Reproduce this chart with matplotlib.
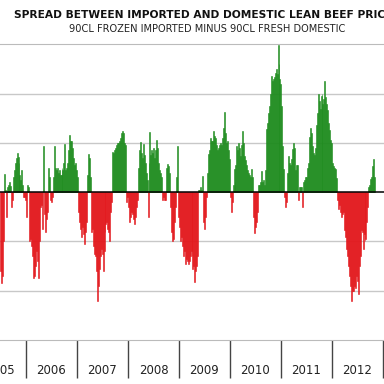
import matplotlib
matplotlib.use('Agg')
import matplotlib.pyplot as plt
import numpy as np
import pandas as pd

# weekly spread, 90CL frozen imported minus 90CL fresh domestic (chart units)
first_week = '2005-07-02'
spread = [
    -1.6, -1.85, -1.7, -1.0, 0.38, 0.05, -0.5, 0.1, 0.15, 0.2,
    0.12, -0.3, -0.15, 0.3, 0.45, 0.6, 0.7, 0.8, 0.72, 0.6,
    0.35, 0.25, 0.45, 0.15, -0.1, -0.1, -0.15, -0.5, 0.15, 0.1, -1.0,
    -0.95, -1.1, -1.3, -1.75, -1.7, -1.5, -1.2, -1.4, -1.75, -1.0,
    -0.3, -0.25, -0.75, 0.93, -0.45, -0.8, -0.55, -0.4, 0.5, 0.3,
    -0.15, -0.2, -0.1, 0.3, 0.93, 0.5, 0.45, 0.5, 0.4, 0.45,
    0.35, 0.35, 0.5, 0.45, 0.6, 0.97, 0.45, 0.5, 0.6, 0.85,
    1.17, 1.05, 1.05, 0.9, 0.7, 0.55, 0.6, 0.45, 0.3, -0.4, -0.6,
    -0.75, -0.9, -0.7, -0.85, -1.05, -0.8, -0.6, 0.35, 0.77, 0.7,
    0.3, -0.8, -0.75, -1.1, -1.25, -1.3, -1.6, -2.2, -1.9, -1.55,
    -1.3, -1.15, -1.25, -1.6, -1.2, -0.8, -0.65, -0.6, -0.75, -0.8,
    -1.0, -0.4, -0.2, 0.82, 0.8, 0.85, 0.9, 0.95, 1.0, 1.0, 1.05,
    1.1, 1.2, 1.25, 1.2, 1.0, 0.95, -0.2, -0.1, -0.3, -0.6,
    -0.5, -0.4, -0.45, -0.55, -0.65, -0.5, -0.3, -0.15, 0.5, 0.85,
    1.03, 0.8, 0.7, 0.97, 0.75, 0.6, 0.4, 0.25, -0.5, 0.6,
    1.22, 0.75, 0.85, 0.8, 0.9, 0.7, 0.85, 1.07, 0.9, 0.6,
    0.45, 0.4, 0.3, -0.15, -0.1, -0.15, -0.15, 0.5, 0.57, 0.53, 0.4,
    -0.3, -0.8, -1.0, -0.95, -0.6, -0.3, 0.3, 0.93, -0.5, -0.7,
    -1.0, -0.9, -1.1, -1.3, -1.2, -1.45, -1.35, -1.4, -1.45, -1.4,
    -1.3, -1.2, -1.3, -1.55, -1.5, -1.83, -1.6, -1.5, -1.3, 0.05,
    0.05, 0.1, 0.05, 0.33, -0.6, -0.75, -0.5, -0.1, 0.4, 0.77,
    0.85, 1.1, 1.05, 1.05, 1.24, 1.15, 1.1, 0.95, 0.85, 0.9, 0.95,
    1.0, 0.95, 1.1, 1.3, 1.62, 1.2, 1.0, 1.05, 0.85, 0.68,
    -0.1, -0.4, -0.2, 0.15, 0.47, 0.2, 0.55, 0.93, 0.85, 1.0,
    0.9, 0.73, 0.95, 1.24, 1.0, 0.73, 0.65, 0.55, 0.45, 0.4,
    0.35, 0.3, 0.47, 0.3, -0.5, -0.82, -0.7, -0.6, -0.4, 0.15, 0.15,
    0.2, 0.43, 0.2, 0.25, 0.15, 0.45, 1.28, 1.4, 1.6, 1.75,
    2.0, 2.36, 2.25, 2.3, 2.35, 2.43, 2.5, 2.4, 2.98, 2.6,
    2.3, 2.2, 1.75, 0.93, 0.47, -0.1, -0.3, -0.2, 0.4, 0.73,
    0.6, 0.55, 0.68, 0.87, 1.0, 0.9, 0.45, 0.55, 0.55, -0.15,
    0.1, 0.1, 0.1, -0.3, 0.2, 0.25, 0.3, 0.3, 0.5, 0.6, 1.13,
    1.3, 1.2, 0.93, 0.8, 0.75, 0.9, 1.37, 1.6, 2.0, 1.85,
    1.7, 1.95, 2.0, 1.8, 1.9, 2.25, 1.93, 1.8, 1.66, 1.4,
    1.27, 1.07, 1.0, 0.6, 0.53, 0.5, 0.47, 0.28, -0.15, -0.35,
    -0.25, -0.4, -0.5, -0.45, -0.4, -0.77, -0.9, -1.15, -1.3, -1.5,
    -1.7, -1.9, -2.2, -2.0, -2.0, -1.9, -1.95, -1.7, -1.8, -2.07, -1.5,
    -1.3, -0.77, -0.8, -1.15, -0.85, -1.0, -0.95, -0.6, -0.3, 0.1,
    0.15, 0.27, 0.3, 0.53, 0.67, 0.3,
]
years = [2005, 2006, 2007, 2008, 2009, 2010, 2011, 2012]
title = 'SPREAD BETWEEN IMPORTED AND DOMESTIC LEAN BEEF PRICES'
subtitle = '90CL FROZEN IMPORTED MINUS 90CL FRESH DOMESTIC'

GREEN = '#1f8c1f'
RED = '#e3171c'

vals = np.array(spread)
weeks = pd.date_range(first_week, periods=len(vals), freq='7D')
cols = np.where(vals >= 0, GREEN, RED)

fig = plt.figure(figsize=(3.84, 3.84), dpi=100)
ax = fig.add_axes([0, 0.1146, 1, 0.7708])
ax.bar(weeks, vals, width=7, color=cols, edgecolor=cols, linewidth=0.4, zorder=2)
ax.axhline(0, color='black', lw=1.1, zorder=3)

ax.set_xlim(pd.Timestamp('2005-06-29'), pd.Timestamp('2013-01-08'))
ax.set_ylim(-3, 3.01)
ax.set_yticks([-2, -1, 1, 2])
ax.yaxis.grid(True, color='#c8c8c8', lw=1)
ax.set_axisbelow(True)
ax.tick_params(axis='y', left=False, labelleft=False)

bounds = [pd.Timestamp(f'{y}-01-01') for y in years[1:] + [2013]]
mids = [pd.Timestamp(f'{y}-07-02') for y in years]
ax.set_xticks(bounds)
ax.set_xticklabels([])
ax.tick_params(axis='x', which='major', length=27, width=1, color='#444444')
ax.set_xticks(mids, minor=True)
ax.set_xticklabels([str(y) for y in years], minor=True)
ax.tick_params(axis='x', which='minor', length=0, pad=17, labelsize=8.5, labelcolor='#222222')

for s in ['left', 'right']:
    ax.spines[s].set_visible(False)
for s in ['top', 'bottom']:
    ax.spines[s].set_color('#bbbbbb')

fig.text(0.539, 1 - 15/384, title, ha='center', va='center', fontsize=7.7, fontweight='bold', color='#111111')
fig.text(0.539, 1 - 29/384, subtitle, ha='center', va='center', fontsize=7.1, color='#222222')

fig.savefig('out.png', dpi=100, facecolor='white')
